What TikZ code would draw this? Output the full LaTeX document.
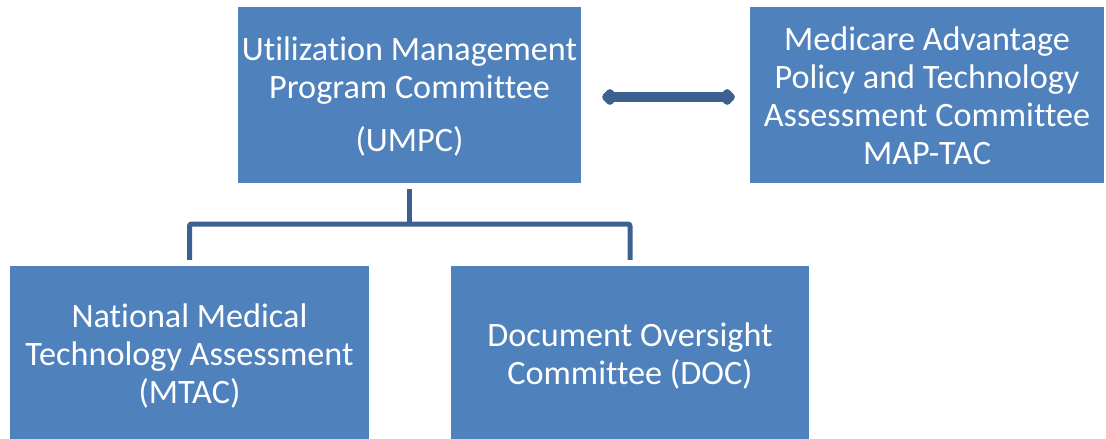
\documentclass[tikz,border=0pt]{standalone}
\usepackage{fontspec}
\setmainfont{Carlito}[Ligatures={NoCommon}]
\usetikzlibrary{arrows.meta}
\definecolor{boxblue}{HTML}{4F81BD}
\definecolor{linkblue}{HTML}{3C6191}
\begin{document}
\begin{tikzpicture}[x=1pt,y=-1pt,
  orgbox/.style={fill=boxblue, draw=none, inner sep=0pt},
  orgtext/.style={text=white, align=center, inner sep=0pt,
    font=\fontsize{34.2}{38}\selectfont},
  conn/.style={draw=linkblue, line width=5pt, line join=round},
  dbl/.style={draw=linkblue, line width=9.5pt, {Diamond[length=18pt,width=19pt,line join=round]}-{Diamond[length=18pt,width=19pt,line join=round]}}]
\useasboundingbox (0,0) rectangle (1106,439);
\node[orgbox, minimum width=343pt, minimum height=176pt] (umpc) at (409.5,95) {};
\node[orgbox, minimum width=354pt, minimum height=176pt] (maptac) at (927,95) {};
\node[orgbox, minimum width=359pt, minimum height=175pt] (mtac) at (189.5,353.5) {};
\node[orgbox, minimum width=358pt, minimum height=175pt] (doc) at (630,353.5) {};
\node[orgtext] (umpct) at ([yshift=-1.5pt]umpc.center)
  {Utilization Management\\Program Committee\\[15pt](UMPC)};
\node[orgtext] (maptact) at ([yshift=-1pt]maptac.center)
  {Medicare Advantage\\Policy and Technology\\Assessment Committee\\MAP-TAC};
\node[orgtext] (mtact) at ([yshift=-2pt]mtac.center)
  {National Medical\\Technology Assessment\\(MTAC)};
\node[orgtext] (doct) at ([yshift=-2pt]doc.center)
  {Document Oversight\\Committee (DOC)};
\coordinate (bus) at (409.5,224);
\draw[conn] ([yshift=-6pt]umpc.south) -- (bus);
\draw[conn, rounded corners=2pt] ([yshift=6pt]mtac.north) |- (bus) -| ([yshift=6pt]doc.north);
\draw[dbl] ([xshift=21pt,yshift=-2pt]umpc.east) -- ([xshift=-15pt,yshift=-2pt]maptac.west);
\end{tikzpicture}
\end{document}
